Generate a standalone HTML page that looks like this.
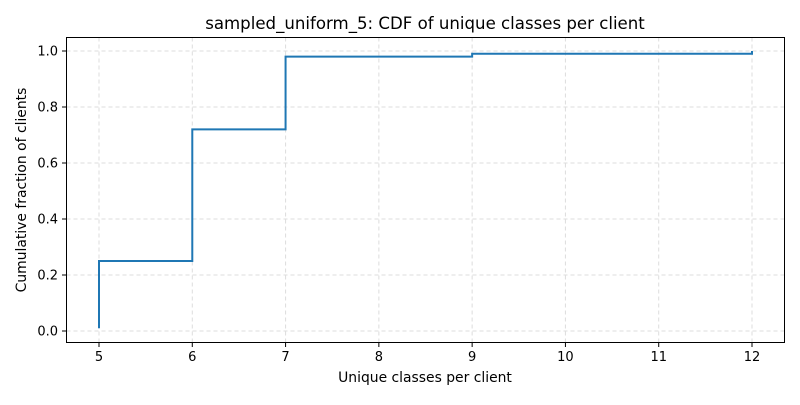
<!DOCTYPE html>
<html><head><meta charset="utf-8"><style>
body{margin:0;background:#fff;}
text{font-family:"DejaVu Sans","Liberation Sans",sans-serif;fill:#000;}
</style></head><body>
<svg id="chart" width="800" height="400" xmlns="http://www.w3.org/2000/svg">
<rect width="800" height="400" fill="#fff"/>
<text x="425" y="29" font-size="16.6" text-anchor="middle">sampled_uniform_5: CDF of unique classes per client</text>
<g id="grid"></g><g id="ticks"></g>
<path id="line" fill="none" stroke="#1f77b4" stroke-width="2"/>
<rect x="66.5" y="37.5" width="718" height="305" fill="none" stroke="#000" stroke-width="1"/>
<text x="425" y="382" font-size="13.9" text-anchor="middle">Unique classes per client</text>
<text transform="translate(26,190) rotate(-90)" font-size="13.9" text-anchor="middle">Cumulative fraction of clients</text>
</svg>
<script>
const xVals=[5,5,6,7,9,12];
const yVals=[0.01,0.25,0.72,0.98,0.99,1.0];
const xTicks=[5,6,7,8,9,10,11,12];
const yTicks=[0.0,0.2,0.4,0.6,0.8,1.0];
const sx=v=>99+(v-5)*(752-99)/7;
const sy=v=>331-v*280;
const NS="http://www.w3.org/2000/svg";
const grid=document.getElementById('grid'),ticks=document.getElementById('ticks');
function mk(tag,attrs,parent){const e=document.createElementNS(NS,tag);for(const k in attrs)e.setAttribute(k,attrs[k]);parent.appendChild(e);return e;}
xTicks.forEach(t=>{const x=sx(t);
const g=mk('line',{x1:x,x2:x,y1:37.5,y2:342.5,stroke:'#ddd','stroke-dasharray':'4,3'},grid);


const tk=mk('line',{x1:x,x2:x,y1:342.5,y2:347,stroke:'#000'},ticks);


const l=mk('text',{x:x,y:361,'font-size':'13','text-anchor':'middle'},ticks);l.textContent=t;

});
yTicks.forEach(t=>{const y=sy(t);
const g=mk('line',{x1:66.5,x2:784.5,y1:y,y2:y,stroke:'#ddd','stroke-dasharray':'4,3'},grid);


const tk=mk('line',{x1:62,x2:66.5,y1:y,y2:y,stroke:'#000'},ticks);


const l=mk('text',{x:58,y:y+4.5,'font-size':'13','text-anchor':'end'},ticks);l.textContent=t.toFixed(1);

});
let d='M'+sx(xVals[0])+','+sy(yVals[0]);
for(let i=1;i<xVals.length;i++){d+=' L'+sx(xVals[i])+','+sy(yVals[i-1])+' L'+sx(xVals[i])+','+sy(yVals[i]);}
document.getElementById('line').setAttribute('d',d);
</script>
</body></html>
